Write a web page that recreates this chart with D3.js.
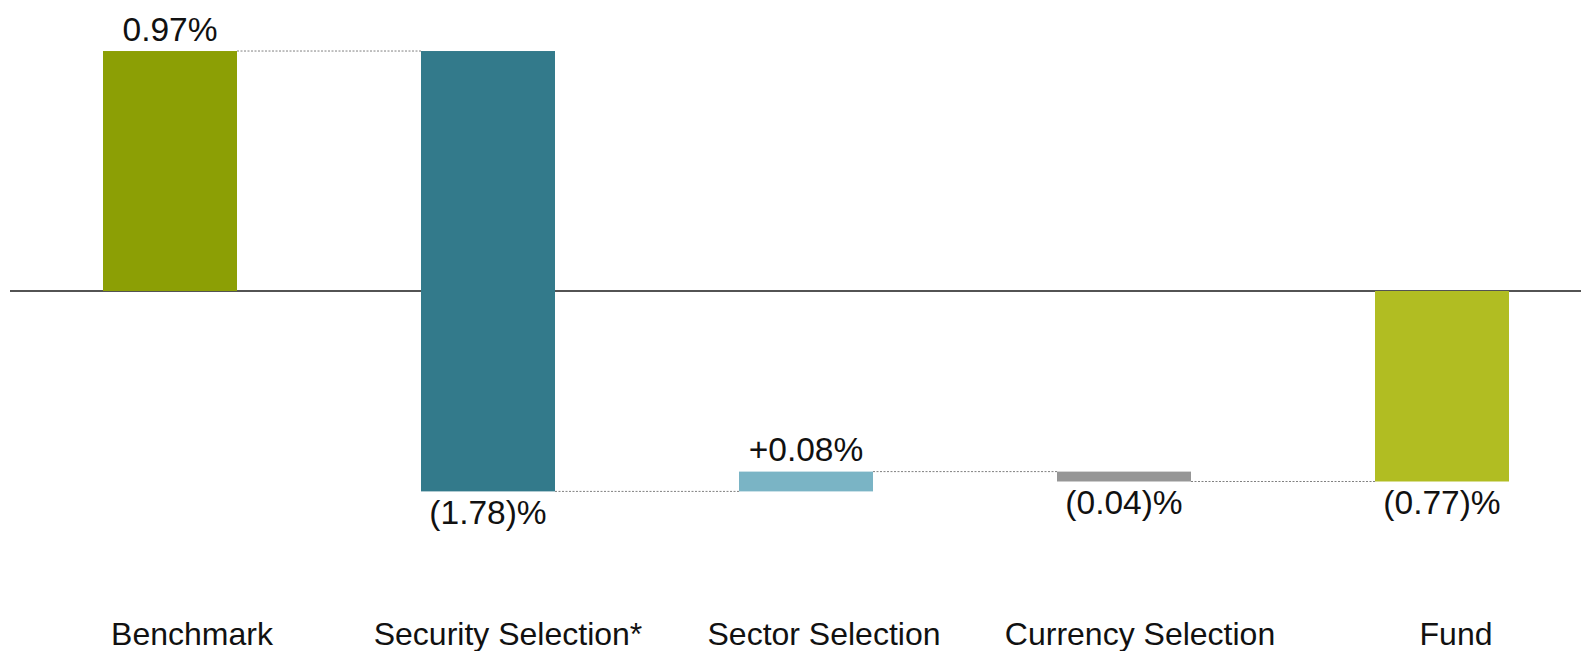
<!DOCTYPE html>
<html>
<head>
<meta charset="utf-8">
<script src="https://cdn.jsdelivr.net/npm/d3@7"></script>
<style>
  html, body { margin: 0; padding: 0; background: #fff; }
  svg { display: block; }
  text { font-family: "Liberation Sans", Arial, Helvetica, sans-serif; fill: #111; }
</style>
</head>
<body>
<svg id="chart" width="1581" height="651"></svg>
<script>
// Performance attribution walk: benchmark return, effects, fund return (percent)
const categories = ["Benchmark", "Security Selection*", "Sector Selection", "Currency Selection", "Fund"];
const values = [0.97, -1.78, 0.08, -0.04, -0.77];
const kinds = ["total", "delta", "delta", "delta", "total"];
const valueLabels = ["0.97%", "(1.78)%", "+0.08%", "(0.04)%", "(0.77)%"];
const colors = ["#8c9f05", "#337a8b", "#7ab4c5", "#969696", "#b1bd22"];

const W = 1581, H = 651;
const svg = d3.select("#chart");

// Build bar extents: totals start at zero, deltas start at the running level
let level = 0;
const bars = categories.map((c, i) => {
  let start, end;
  if (kinds[i] === "total") { start = 0; end = values[i]; }
  else { start = level; end = level + values[i]; }
  level = end;
  return { cat: c, value: values[i], start, end, label: valueLabels[i], color: colors[i] };
});

const x = d3.scaleBand()
  .domain(categories)
  .range([11, 1601])
  .paddingInner(184 / 318)
  .paddingOuter(92 / 318);

// category captions sit on their own evenly spaced row
const xLabel = d3.scalePoint()
  .domain(categories)
  .range([192, 1456]);

const y = d3.scaleLinear()
  .domain([-1, 1])
  .range([291 + 247.4, 291 - 247.4]);

// zero line
svg.append("line")
  .attr("x1", 10).attr("x2", W)
  .attr("y1", y(0)).attr("y2", y(0))
  .attr("stroke", "#1a1a1a").attr("stroke-width", 1.3);

// dotted connectors between consecutive bars at the running level
for (let i = 0; i < bars.length - 1; i++) {
  const lvl = bars[i].end;
  svg.append("line")
    .attr("x1", x(bars[i].cat) + x.bandwidth())
    .attr("x2", x(bars[i + 1].cat))
    .attr("y1", y(lvl)).attr("y2", y(lvl))
    .attr("stroke", "#808080")
    .attr("stroke-width", 1)
    .attr("stroke-dasharray", "2,1.5");
}

// bars
svg.selectAll("rect.bar")
  .data(bars)
  .join("rect")
  .attr("class", "bar")
  .attr("x", d => x(d.cat))
  .attr("width", x.bandwidth())
  .attr("y", d => y(Math.max(d.start, d.end)))
  .attr("height", d => Math.abs(y(d.start) - y(d.end)))
  .attr("fill", d => d.color);

// value labels: above for gains, below for losses
svg.selectAll("text.val")
  .data(bars)
  .join("text")
  .attr("class", "val")
  .attr("text-anchor", "middle")
  .attr("font-size", 33.5)
  .attr("x", d => x(d.cat) + x.bandwidth() / 2)
  .attr("y", d => d.value >= 0 ? y(Math.max(d.start, d.end)) - 10.5 : y(Math.min(d.start, d.end)) + 33)
  .text(d => d.label);

// category labels
svg.selectAll("text.cat")
  .data(bars)
  .join("text")
  .attr("class", "cat")
  .attr("text-anchor", "middle")
  .attr("font-size", 32)
  .attr("x", d => xLabel(d.cat))
  .attr("y", 645)
  .text(d => d.cat);
</script>
</body>
</html>
